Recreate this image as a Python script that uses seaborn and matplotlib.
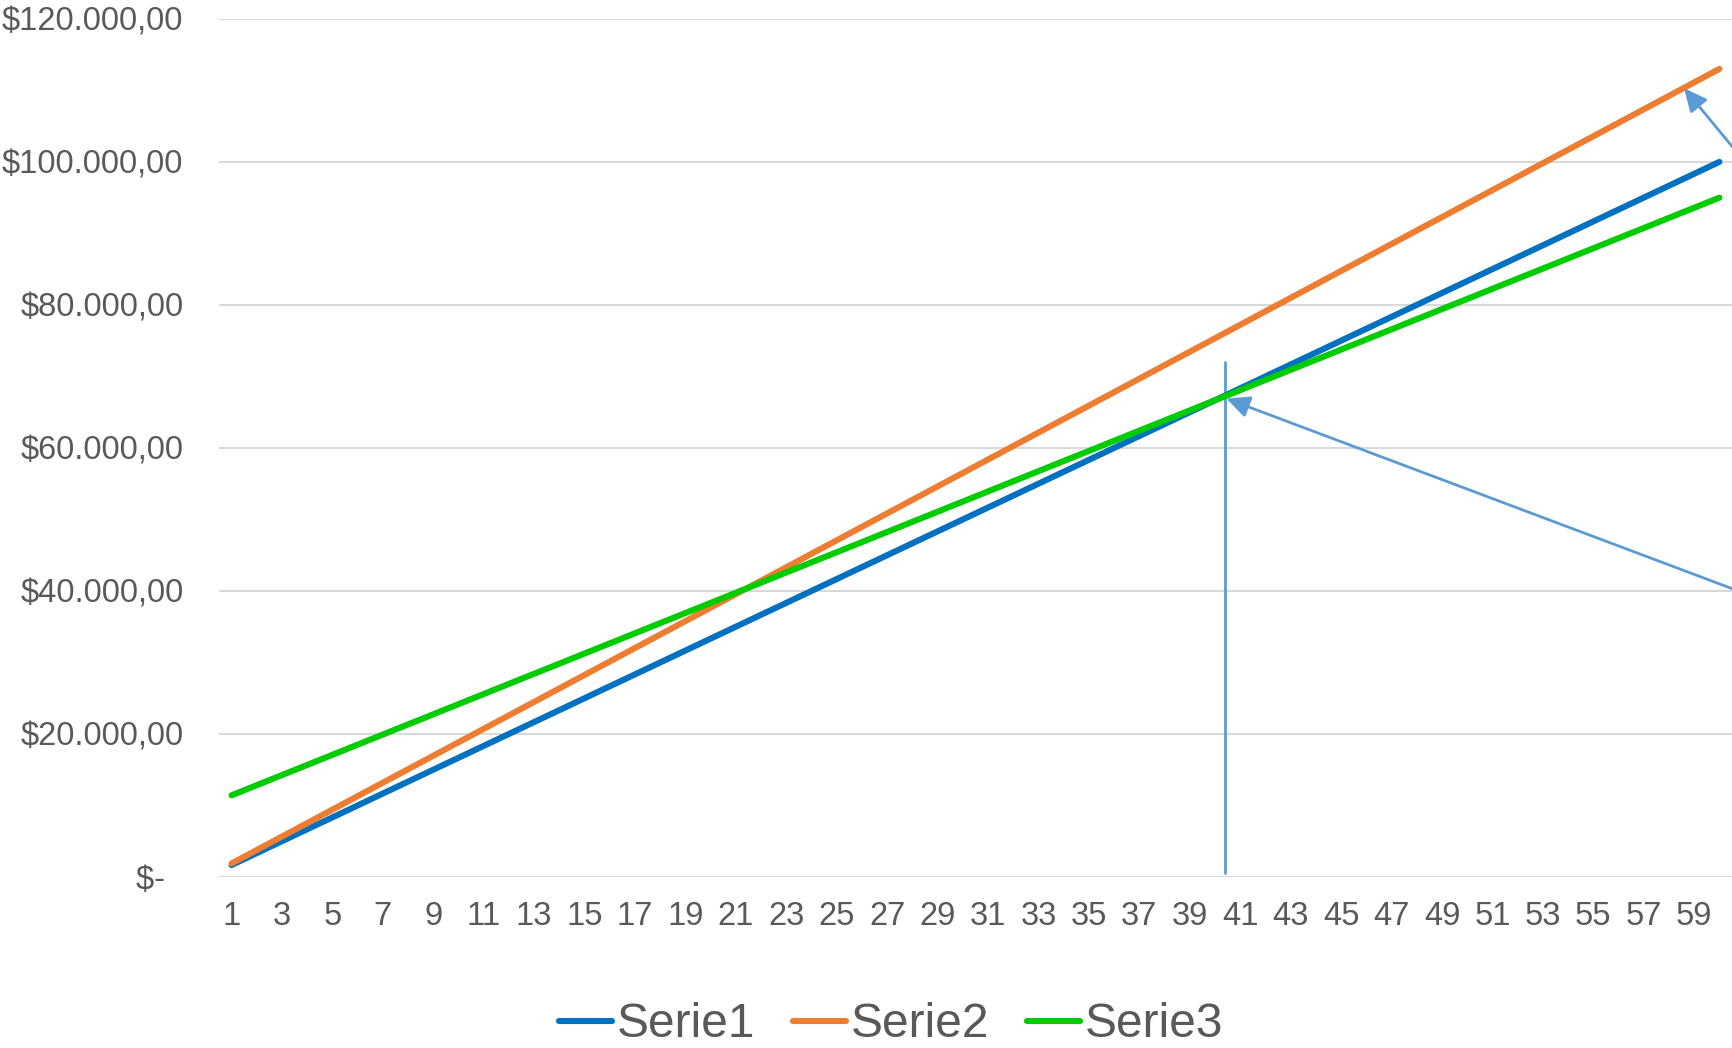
import matplotlib
matplotlib.use("Agg")
import matplotlib.pyplot as plt
import seaborn as sns
import pandas as pd

# Period index and the three series
periods = list(range(1, 61))

serie1 = [1667, 3333, 5000, 6667, 8333, 10000, 11667, 13333, 15000, 16667,
          18333, 20000, 21667, 23333, 25000, 26667, 28333, 30000, 31667, 33333,
          35000, 36667, 38333, 40000, 41667, 43333, 45000, 46667, 48333, 50000,
          51667, 53333, 55000, 56667, 58333, 60000, 61667, 63333, 65000, 66667,
          68333, 70000, 71667, 73333, 75000, 76667, 78333, 80000, 81667, 83333,
          85000, 86667, 88333, 90000, 91667, 93333, 95000, 96667, 98333, 100000]

serie2 = [1883, 3767, 5650, 7533, 9417, 11300, 13183, 15067, 16950, 18833,
          20717, 22600, 24483, 26367, 28250, 30133, 32017, 33900, 35783, 37667,
          39550, 41433, 43317, 45200, 47083, 48967, 50850, 52733, 54617, 56500,
          58383, 60267, 62150, 64033, 65917, 67800, 69683, 71567, 73450, 75333,
          77217, 79100, 80983, 82867, 84750, 86633, 88517, 90400, 92283, 94167,
          96050, 97933, 99817, 101700, 103583, 105467, 107350, 109233, 111117, 113000]

serie3 = [11417, 12833, 14250, 15667, 17083, 18500, 19917, 21333, 22750, 24167,
          25583, 27000, 28417, 29833, 31250, 32667, 34083, 35500, 36917, 38333,
          39750, 41167, 42583, 44000, 45417, 46833, 48250, 49667, 51083, 52500,
          53917, 55333, 56750, 58167, 59583, 61000, 62417, 63833, 65250, 66667,
          68083, 69500, 70917, 72333, 73750, 75167, 76583, 78000, 79417, 80833,
          82250, 83667, 85083, 86500, 87917, 89333, 90750, 92167, 93583, 95000]

series_names = ["Serie1", "Serie2", "Serie3"]
series_colors = ["#0070C0", "#ED7D31", "#00CC00"]

y_ticks = [0, 20000, 40000, 60000, 80000, 100000, 120000]
y_tick_labels = ["$-  ", "$20.000,00", "$40.000,00", "$60.000,00",
                 "$80.000,00", "$100.000,00", "$120.000,00"]
x_ticks = list(range(1, 60, 2))

df = pd.DataFrame({
    "Periodo": periods * 3,
    "Valor": serie1 + serie2 + serie3,
    "Serie": sum([[n] * len(periods) for n in series_names], []),
})

sns.set_theme(style="white")
plt.rcParams["font.family"] = ["Liberation Sans", "DejaVu Sans"]
text_color = "#595959"
accent = "#5B9BD5"

fig = plt.figure(figsize=(17.32, 10.48), dpi=100)
ax = fig.add_axes([0.1264, 0.1632, 0.8736, 0.8188])

sns.lineplot(data=df, x="Periodo", y="Valor", hue="Serie",
             palette=dict(zip(series_names, series_colors)),
             linewidth=4.4, ax=ax, legend=True,
             solid_capstyle="round")

ax.set_xlim(0.5, 60.5)
ax.set_ylim(0, 120000)
ax.set_yticks(y_ticks)
ax.set_yticklabels(y_tick_labels)
ax.set_xticks(x_ticks)
ax.set_xticklabels([str(t) for t in x_ticks])
ax.set_xlabel("")
ax.set_ylabel("")

ax.grid(axis="y", color="#D9D9D9", linewidth=1.5)
ax.grid(axis="x", visible=False)
ax.set_axisbelow(True)
for s in ax.spines.values():
    s.set_visible(False)
ax.tick_params(axis="y", length=0, pad=25.5, labelsize=23.5, labelcolor=text_color)
ax.tick_params(axis="x", length=0, pad=17, labelsize=23.5, labelcolor=text_color)

# Break-even marker and callout arrows
ax.plot([40.4, 40.4], [500, 72000], color=accent, linewidth=2, zorder=1)
arrow_style = dict(arrowstyle="-|>,head_length=0.7,head_width=0.33",
                   color=accent, lw=2, mutation_scale=20, shrinkA=0, shrinkB=0)
ax.annotate("", xy=(58.6, 110300), xytext=(61.5, 97900),
            arrowprops=arrow_style, annotation_clip=False)
ax.annotate("", xy=(40.45, 66900), xytext=(61.5, 39000),
            arrowprops=arrow_style, annotation_clip=False)

handles, labels = ax.get_legend_handles_labels()
ax.legend_.remove()
fig.legend(handles, labels, loc="center", bbox_to_anchor=(0.5145, 0.022),
           ncol=3, frameon=False, fontsize=34.5, labelcolor=text_color,
           handlelength=1.1, handletextpad=0.1, columnspacing=0.8,
           borderpad=0.1)

fig.savefig("out.png", dpi=100)
